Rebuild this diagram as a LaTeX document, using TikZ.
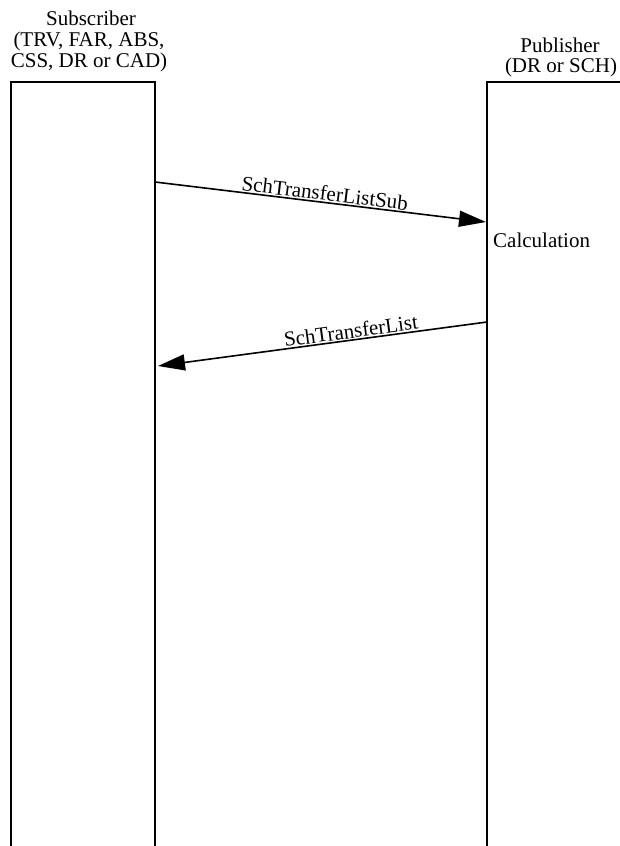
\documentclass[tikz,border=0pt]{standalone}
\usepackage{fontspec}
\setmainfont{Liberation Serif}
\usetikzlibrary{arrows.meta}
\begin{document}
\begin{tikzpicture}[x=1pt,y=-1pt,
  lifeline/.style={line width=1.8pt},
  msg/.style={line width=1.6pt,-{Triangle[length=27pt,width=16pt]}},
  hdr/.style={font=\fontsize{21}{20.5}\selectfont,align=center,inner sep=0pt},
  lbl/.style={font=\fontsize{21}{22}\selectfont,inner sep=1pt}]
\useasboundingbox (0,0) rectangle (619,846);

% lifeline frames (open at the bottom, publisher runs off the right edge)
\draw[lifeline] (11,846) -- (11,82) -- (155,82) -- (155,846);
\draw[lifeline] (487,846) -- (487,82) -- (625,82);

% headers
\node[hdr,anchor=base] (subname) at (91,25) {Subscriber};
\node[hdr,anchor=base] (subrole1) at (89,46) {(TRV, FAR, ABS,};
\node[hdr,anchor=base] (subrole2) at (89,67) {CSS, DR or CAD)};
\node[hdr,anchor=base] (pubname) at (560,52) {Publisher};
\node[hdr,anchor=base] (pubrole) at (561,72) {(DR or SCH)};

% message end points on the lifelines
\coordinate (s1) at (155,182);
\coordinate (p1) at (486,222);
\coordinate (p2) at (487,322);
\coordinate (s2) at (158,366);

\draw[msg] (s1) -- node[lbl,sloped,above,pos=0.51] (m1) {SchTransferListSub} (p1);
\draw[msg] (p2) -- node[lbl,sloped,above,pos=0.41] (m2) {SchTransferList} (s2);

\node[lbl,anchor=base west,inner sep=0pt] (calc) at (493,247) {Calculation};
\end{tikzpicture}
\end{document}
